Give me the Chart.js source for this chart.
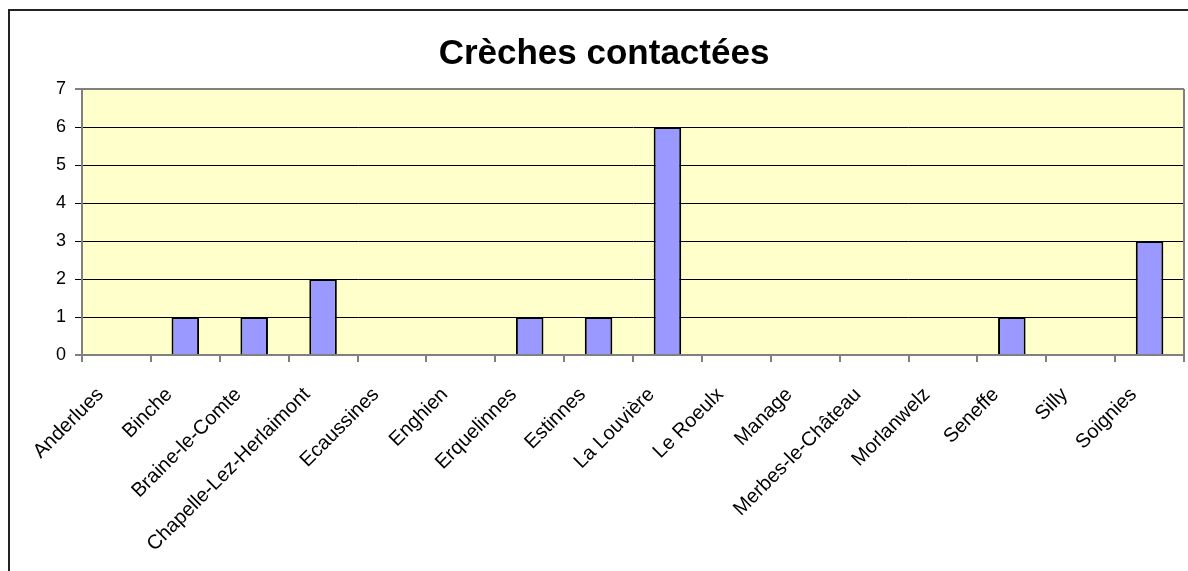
<!DOCTYPE html>
<html><head><meta charset="utf-8">
<script src="https://cdn.jsdelivr.net/npm/chart.js@4/dist/chart.umd.min.js"></script>
<style>
html,body{margin:0;padding:0;background:#fff;overflow:hidden;}
#wrap{position:absolute;left:0;top:0;width:1188px;height:571px;}
#frame{position:absolute;left:8px;top:9px;width:1200px;height:600px;border:2px solid #222;box-sizing:border-box;pointer-events:none;}
</style></head>
<body>
<div id="wrap"><canvas id="c" width="1188" height="571"></canvas></div>
<div id="frame"></div>
<script>
const categories = ["Anderlues","Binche","Braine-le-Comte","Chapelle-Lez-Herlaimont","Ecaussines","Enghien","Erquelinnes","Estinnes","La Louvière","Le Roeulx","Manage","Merbes-le-Château","Morlanwelz","Seneffe","Silly","Soignies"];
const values = [0,1,1,2,0,0,1,1,6,0,0,0,0,1,0,3];
const yTicks = [0,1,2,3,4,5,6,7];
const chartTitle = "Crèches contactées";

const plotBg = {
  id:'plotBg',
  beforeDraw(chart){
    const {ctx, chartArea:a} = chart;
    ctx.save(); ctx.fillStyle='#FFFFCC';
    ctx.fillRect(a.left,a.top,a.right-a.left,a.bottom-a.top);
    ctx.restore();
  },
  afterDatasetsDraw(chart){
    const {ctx, chartArea:a} = chart;
    ctx.save(); ctx.strokeStyle='#808080'; ctx.lineWidth=2;
    ctx.beginPath(); ctx.moveTo(a.right,a.top); ctx.lineTo(a.right,a.bottom); ctx.stroke();
    ctx.restore();
  }
};

new Chart(document.getElementById('c'), {
  type:'bar',
  data:{labels:categories, datasets:[{data:values, backgroundColor:'#9999FF', borderColor:'#000', borderWidth:2, barPercentage:0.4, categoryPercentage:1}]},
  options:{
    responsive:false, animation:false,
    layout:{padding:{left:24,right:4,top:0,bottom:0}},
    plugins:{
      legend:{display:false}, tooltip:{enabled:false},
      title:{display:true, text:chartTitle, color:'#000', font:{family:'Liberation Sans', size:35, weight:'bold'}, padding:{top:33,bottom:14}}
    },
    scales:{
      x:{
        afterFit(s){ s.height = 216; },
        grid:{offset:true, drawOnChartArea:false, drawTicks:true, tickLength:7, color:'#808080', lineWidth:2},
        border:{color:'#808080', width:2},
        ticks:{minRotation:45, maxRotation:45, autoSkip:false, color:'#000', padding:21, labelOffset:-16, font:{family:'Liberation Sans', size:20}}
      },
      y:{
        min:0, max:7,
        afterFit(s){ s.width = 58; },
        afterBuildTicks(s){ s.ticks = yTicks.map(v=>({value:v})); },
        grid:{drawTicks:true, tickLength:7, color:(c)=> (c.tick && (c.tick.value===0||c.tick.value===7)) ? '#808080' : '#000', lineWidth:(c)=> (c.tick && (c.tick.value===0||c.tick.value===7)) ? 2 : 1},
        border:{color:'#808080', width:2},
        ticks:{color:'#000', padding:9, font:{family:'Liberation Sans', size:18}}
      }
    }
  },
  plugins:[plotBg]
});
</script>
</body></html>
